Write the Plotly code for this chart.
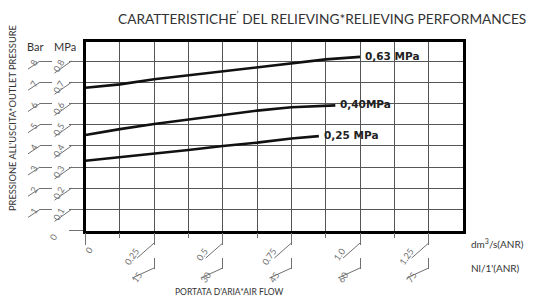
import plotly.graph_objects as go

# ---- data ----
flow_ticks = [0, 0.25, 0.5, 0.75, 1.0, 1.25]
flow_labels = ["0", "0.25", "0.5", "0.75", "1.0", "1.25"]
nl_ticks = [0.25, 0.5, 0.75, 1.0, 1.25]
nl_labels = ["15", "30", "45", "60", "75"]
mpa_ticks = [0, 0.1, 0.2, 0.3, 0.4, 0.5, 0.6, 0.7, 0.8]
mpa_labels = ["0", "0.1", "0.2", "0.3", "0.4", "0.5", "0.6", "0.7", "0.8"]
bar_ticks = [1, 2, 3, 4, 5, 6, 7, 8]
bar_labels = ["1", "2", "3", "4", "5", "6", "7", "8"]

flow_063 = [0, 0.125, 0.25, 0.375, 0.5, 0.625, 0.75, 0.875, 1.0]
p_063 = [0.674, 0.690, 0.714, 0.733, 0.750, 0.770, 0.789, 0.808, 0.820]
flow_040 = [0, 0.125, 0.25, 0.375, 0.5, 0.625, 0.75, 0.875, 0.91]
p_040 = [0.451, 0.479, 0.503, 0.525, 0.545, 0.566, 0.582, 0.589, 0.591]
flow_025 = [0, 0.125, 0.25, 0.375, 0.5, 0.625, 0.75, 0.85]
p_025 = [0.330, 0.346, 0.361, 0.380, 0.399, 0.415, 0.435, 0.446]
curve_names = ["0,63 MPa", "0,40MPa", "0,25 MPa"]

# ---- layout geometry ----
W, H = 535, 300
ML, MR, MT, MB = 20, 72, 42, 15
PW = W - ML - MR
PH = H - MT - MB


def px_x(px):
    return (px - ML) / PW


def px_y(py):
    return (H - MB - py) / PH


x_dom = [px_x(85.5), 1.0]
y_dom = [px_y(230.6), 1.0]

TICK_COL = "#707070"
GRID_COL = "#555555"
FONT = "Lato"

fig = go.Figure()
curves = [(flow_063, p_063), (flow_040, p_040), (flow_025, p_025)]
for (fx, py), name in zip(curves, curve_names):
    fig.add_trace(go.Scatter(x=fx, y=py, mode="lines", line=dict(color="#111111", width=2.6),
                             name=name, showlegend=False, hoverinfo="skip"))
    fig.add_annotation(x=fx[-1], y=py[-1], xref="x", yref="y", text="<b>%s</b>" % name,
                       showarrow=False, xanchor="left", yanchor="middle", xshift=3, yshift=1,
                       font=dict(family="DejaVu Sans", size=10.5, color="#222222"))

# invisible traces to activate the secondary axes
fig.add_trace(go.Scatter(x=[0], y=[0], xaxis="x2", yaxis="y", mode="markers",
                         marker=dict(opacity=0), showlegend=False, hoverinfo="skip"))
fig.add_trace(go.Scatter(x=[0], y=[0], xaxis="x", yaxis="y2", mode="markers",
                         marker=dict(opacity=0), showlegend=False, hoverinfo="skip"))

tickfont = dict(family=FONT, size=9, color=TICK_COL)

# the "0" labels sit apart from the hooked labels, drawn separately below
flow_text = [""] + flow_labels[1:]
mpa_text = [""] + mpa_labels[1:]

fig.update_layout(
    width=W, height=H,
    margin=dict(l=ML, r=MR, t=MT, b=MB, autoexpand=False),
    paper_bgcolor="white", plot_bgcolor="white",
    xaxis=dict(domain=x_dom, range=[0, 1.375], tickvals=flow_ticks, ticktext=flow_text,
               ticks="outside", ticklen=12, tickcolor=TICK_COL, tickwidth=1,
               tickangle=-55, tickfont=tickfont, automargin=False,
               ticklabelshift=-18, ticklabelstandoff=-3,
               showgrid=True, gridcolor=GRID_COL, gridwidth=1,
               minor=dict(tickvals=[0.125, 0.375, 0.625, 0.875, 1.125], ticks="outside",
                          ticklen=5, tickcolor=TICK_COL, showgrid=True,
                          gridcolor=GRID_COL, gridwidth=1),
               showline=True, linecolor="#000000", linewidth=2.6, mirror=True,
               zeroline=False, anchor="y"),
    xaxis2=dict(domain=x_dom, range=[0, 1.375], overlaying="x", anchor="free",
                position=px_y(257), tickvals=nl_ticks, ticktext=nl_labels, automargin=False,
                ticks="outside", ticklen=11, tickcolor=TICK_COL, tickangle=-55,
                ticklabelshift=-15, ticklabelstandoff=-3,
                tickfont=tickfont, showgrid=False, showline=False, zeroline=False),
    yaxis=dict(domain=y_dom, range=[0, 0.89], tickvals=mpa_ticks, ticktext=mpa_text,
               ticks="outside", ticklen=14, tickcolor=TICK_COL, tickwidth=1,
               tickangle=-60, tickfont=tickfont, automargin=False,
               ticklabelstandoff=6,
               showgrid=True, gridcolor=GRID_COL, gridwidth=1,
               showline=True, linecolor="#000000", linewidth=2.6, mirror=True,
               zeroline=False, anchor="x"),
    yaxis2=dict(domain=y_dom, range=[0, 8.9], overlaying="y", anchor="free",
                position=px_x(52), side="left", tickvals=bar_ticks, ticktext=bar_labels,
                ticks="outside", ticklen=12, tickcolor=TICK_COL, tickangle=-60,
                tickfont=tickfont, automargin=False, ticklabelstandoff=4,
                showgrid=False, showline=False, zeroline=False),
)

fig.add_annotation(x=flow_ticks[0], xref="x", yref="paper", y=px_y(250), text=flow_labels[0],
                   textangle=-55, showarrow=False, xanchor="center", yanchor="middle",
                   xshift=3, font=tickfont)
fig.add_annotation(x=px_x(53), xref="paper", yref="y", y=mpa_ticks[0], text=mpa_labels[0],
                   textangle=-60, showarrow=False, xanchor="center", yanchor="middle",
                   yshift=-7, font=tickfont)

# hook strokes under tick labels
hook = dict(color=TICK_COL, width=1)
for v in mpa_ticks[1:]:
    fig.add_shape(type="line", xref="paper", yref="y", xsizemode="pixel", ysizemode="pixel",
                  xanchor=px_x(71.5), yanchor=v, x0=0, x1=-17, y0=0, y1=-12, line=hook)
for v in bar_ticks:
    fig.add_shape(type="line", xref="paper", yref="y2", xsizemode="pixel", ysizemode="pixel",
                  xanchor=px_x(40), yanchor=v, x0=0, x1=-12, y0=0, y1=-8, line=hook)
for v in flow_ticks[1:]:
    fig.add_shape(type="line", xref="x", yref="paper", xsizemode="pixel", ysizemode="pixel",
                  xanchor=v, yanchor=px_y(243), x0=0, x1=-17, y0=0, y1=-15, line=hook)
for v in nl_ticks:
    fig.add_shape(type="line", xref="x2", yref="paper", xsizemode="pixel", ysizemode="pixel",
                  xanchor=v, yanchor=px_y(268), x0=0, x1=-22, y0=0, y1=-10, line=hook)

txt = "#333333"
fig.add_annotation(xref="paper", yref="paper", x=px_x(322), y=px_y(18),
                   text="CARATTERISTICHE<sup>’</sup> DEL RELIEVING*RELIEVING PERFORMANCES",
                   showarrow=False, xanchor="center", yanchor="middle",
                   font=dict(family=FONT, size=13.7, color=txt))
fig.add_annotation(xref="paper", yref="paper", x=px_x(12), y=px_y(118),
                   text="PRESSIONE ALL'USCITA*OUTLET PRESSURE", textangle=-90,
                   showarrow=False, xanchor="center", yanchor="middle",
                   font=dict(family=FONT, size=9.3, color=txt))
fig.add_annotation(xref="paper", yref="paper", x=px_x(35), y=px_y(46), text="Bar",
                   showarrow=False, xanchor="center", yanchor="middle",
                   font=dict(family=FONT, size=11, color=txt))
fig.add_annotation(xref="paper", yref="paper", x=px_x(65), y=px_y(46), text="MPa",
                   showarrow=False, xanchor="center", yanchor="middle",
                   font=dict(family=FONT, size=11, color=txt))
fig.add_annotation(xref="paper", yref="paper", x=px_x(469), y=px_y(243),
                   text="dm<sup>3</sup>/s(ANR)", showarrow=False, xanchor="left",
                   yanchor="middle", font=dict(family=FONT, size=10, color=txt))
fig.add_annotation(xref="paper", yref="paper", x=px_x(469), y=px_y(268),
                   text="Nl/1'(ANR)", showarrow=False, xanchor="left",
                   yanchor="middle", font=dict(family=FONT, size=10, color=txt))
fig.add_annotation(xref="paper", yref="paper", x=px_x(229), y=px_y(292),
                   text="PORTATA D'ARIA*AIR FLOW", showarrow=False, xanchor="center",
                   yanchor="middle", font=dict(family=FONT, size=8.5, color=txt))

fig.write_html("out.html", config={"displayModeBar": False},
               post_script="document.body.style.margin='0';"
               "document.body.style.overflow='hidden';")
